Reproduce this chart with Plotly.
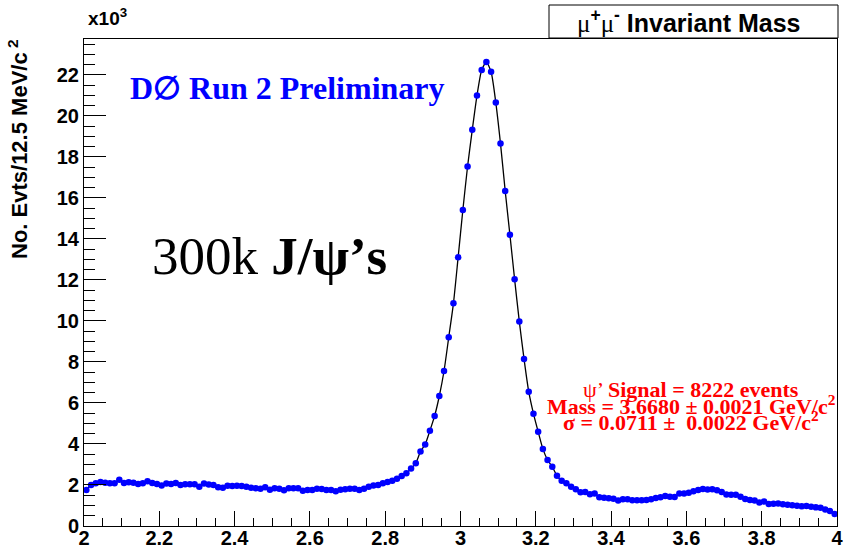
import plotly.graph_objects as go

# Histogram: mu+mu- invariant mass, 160 bins of 12.5 MeV from 2.0 to 4.0 GeV
mass_lo = 2.0
bin_width = 0.0125

# Events per bin, in units of 10^3
counts_k = [
    # 2.000 - 2.4375
    1.76, 2.00, 2.08, 2.15, 2.11, 2.08, 2.08, 2.26, 2.10, 2.13,
    2.11, 2.05, 2.08, 2.18, 2.10, 2.05, 1.98, 2.07, 2.05, 2.10,
    2.00, 2.03, 2.03, 2.03, 1.92, 2.07, 2.02, 2.00, 1.89, 1.87,
    1.96, 1.95, 1.96, 1.95, 1.92,
    # 2.4375 - 2.875
    1.87, 1.84, 1.82, 1.89, 1.77, 1.84, 1.82, 1.74, 1.84, 1.84,
    1.84, 1.72, 1.76, 1.76, 1.82, 1.80, 1.76, 1.76, 1.69, 1.77,
    1.79, 1.82, 1.82, 1.76, 1.82, 1.92, 1.97, 2.00, 2.08, 2.15,
    2.21, 2.31, 2.44, 2.57, 2.80,
    # J/psi peak region
    3.06, 3.63, 3.98, 4.65, 5.37, 6.34, 7.56, 9.20, 10.86, 13.11,
    15.41, 17.53, 19.32, 20.99, 22.24, 22.63,
    22.15, 20.65, 18.65, 16.34, 14.20, 12.03, 9.97, 8.15, 6.55,
    5.48, 4.60, 3.76, 3.22,
    # 3.2375 - 3.6
    2.89, 2.45, 2.21, 2.08, 1.92, 1.79, 1.64, 1.66, 1.55, 1.58,
    1.40, 1.38, 1.35, 1.33, 1.24, 1.30, 1.30, 1.25, 1.25, 1.25,
    1.27, 1.30, 1.37, 1.40, 1.46, 1.43, 1.42, 1.59, 1.59,
    # psi' region to 4.0
    1.62, 1.69,
    1.75, 1.80, 1.78, 1.79, 1.74, 1.66, 1.54, 1.53, 1.53, 1.43,
    1.32, 1.27, 1.24, 1.15, 1.19, 1.07, 1.09, 1.10, 1.06, 1.04,
    1.01, 0.99, 0.96, 0.98, 0.94, 0.91, 0.89, 0.81, 0.73, 0.59,
]

bin_centers = [mass_lo + (i + 0.5) * bin_width for i in range(len(counts_k))]

x_tick_vals = [2.0, 2.2, 2.4, 2.6, 2.8, 3.0, 3.2, 3.4, 3.6, 3.8, 4.0]
x_tick_text = ["2", "2.2", "2.4", "2.6", "2.8", "3", "3.2", "3.4", "3.6", "3.8", "4"]
y_tick_vals = [0, 2, 4, 6, 8, 10, 12, 14, 16, 18, 20, 22]
y_tick_text = [str(v) for v in y_tick_vals]

W, H = 844, 553
L, R, T, B = 84, 7, 39, 27
PW = W - L - R
PH = H - T - B


def px(xp):
    return (xp - L) / PW


def py(yp):
    return (H - B - yp) / PH


SANS = "Liberation Sans"
SERIF = "Liberation Serif"

fig = go.Figure()

# fit curve (drawn beneath points)
fig.add_trace(go.Scatter(
    x=bin_centers, y=counts_k, mode="lines",
    line=dict(color="black", width=1.3, shape="spline", smoothing=0.6),
    hoverinfo="skip", showlegend=False,
))

fig.add_trace(go.Scatter(
    x=bin_centers, y=counts_k, mode="markers",
    marker=dict(color="#0000ff", size=6.5, line=dict(width=0)),
    showlegend=False,
))

fig.update_layout(
    width=W, height=H,
    margin=dict(l=L, r=R, t=T, b=B, pad=0, autoexpand=False),
    paper_bgcolor="white", plot_bgcolor="white",
    showlegend=False,
    xaxis=dict(
        range=[2.0, 4.0], showgrid=False, zeroline=False, automargin=False,
        showline=True, linecolor="black", linewidth=1, mirror=True,
        ticks="inside", ticklen=15, tickwidth=1, tickcolor="black",
        tickvals=x_tick_vals, ticktext=x_tick_text, ticklabelstandoff=-6,
        tickfont=dict(family=SANS, size=20, color="black", weight="bold"),
        minor=dict(ticks="inside", ticklen=8, tickwidth=1, tickcolor="black",
                   dtick=0.05, tick0=2.0, showgrid=False),
    ),
    yaxis=dict(
        range=[0, 23.75], showgrid=False, zeroline=False, automargin=False,
        showline=True, linecolor="black", linewidth=1, mirror=True,
        ticks="inside", ticklen=22, tickwidth=1, tickcolor="black",
        tickvals=y_tick_vals, ticktext=y_tick_text,
        tickfont=dict(family=SANS, size=20, color="black", weight="bold"),
        minor=dict(ticks="inside", ticklen=11, tickwidth=1, tickcolor="black",
                   dtick=0.5, tick0=0, showgrid=False),
    ),
)

# title box
fig.add_shape(type="rect", xref="paper", yref="paper",
              x0=px(549), x1=px(838), y0=py(38), y1=py(5),
              line=dict(color="black", width=1), fillcolor="white", layer="above")

ann = []
ann.append(dict(
    text=(f'<span style="font-family:{SERIF}">μ</span><b><sup>+</sup></b>'
          f'<span style="font-family:{SERIF}">μ</span><b><sup>-</sup></b>'
          ' <b>Invariant Mass</b>'),
    x=px(689), y=py(21), xanchor="center", yanchor="middle",
    font=dict(family=SANS, size=25, color="black"),
))
ann.append(dict(
    text="<b>x10<sup>3</sup></b>", x=px(86), y=py(17), xanchor="left", yanchor="middle",
    font=dict(family=SANS, size=19, color="black"),
))
ann.append(dict(
    text="<b>No. Evts/12.5 MeV/c<sup> 2</sup></b>", textangle=-90,
    x=px(18), y=py(37), xanchor="center", yanchor="top",
    font=dict(family=SANS, size=22, color="black"),
))
ann.append(dict(
    text="<b>D∅ Run 2 Preliminary</b>", x=px(128), y=py(88), xanchor="left", yanchor="middle",
    font=dict(family=SERIF, size=32, color="#0000ff"),
))
ann.append(dict(
    text="300k <b>J/ψ’s</b>", x=px(150), y=py(256), xanchor="left", yanchor="middle",
    font=dict(family=SERIF, size=53, color="black"),
))
red_lines = [
    ("ψ’ <b>Signal = 8222 events</b>", 389),
    ("<b>Mass = 3.6680 ± 0.0021 GeV/c<sup>2</sup></b>", 405),
    ("<b>σ = 0.0711 ±  0.0022 GeV/c<sup>2</sup></b>", 421),
]
for txt, yy in red_lines:
    ann.append(dict(
        text=txt, x=px(691), y=py(yy), xanchor="center", yanchor="middle",
        font=dict(family=SERIF, size=22, color="#ff0000"),
    ))

for a in ann:
    a.update(xref="paper", yref="paper", showarrow=False)
fig.update_layout(annotations=ann)

fig.write_html("out.html")
